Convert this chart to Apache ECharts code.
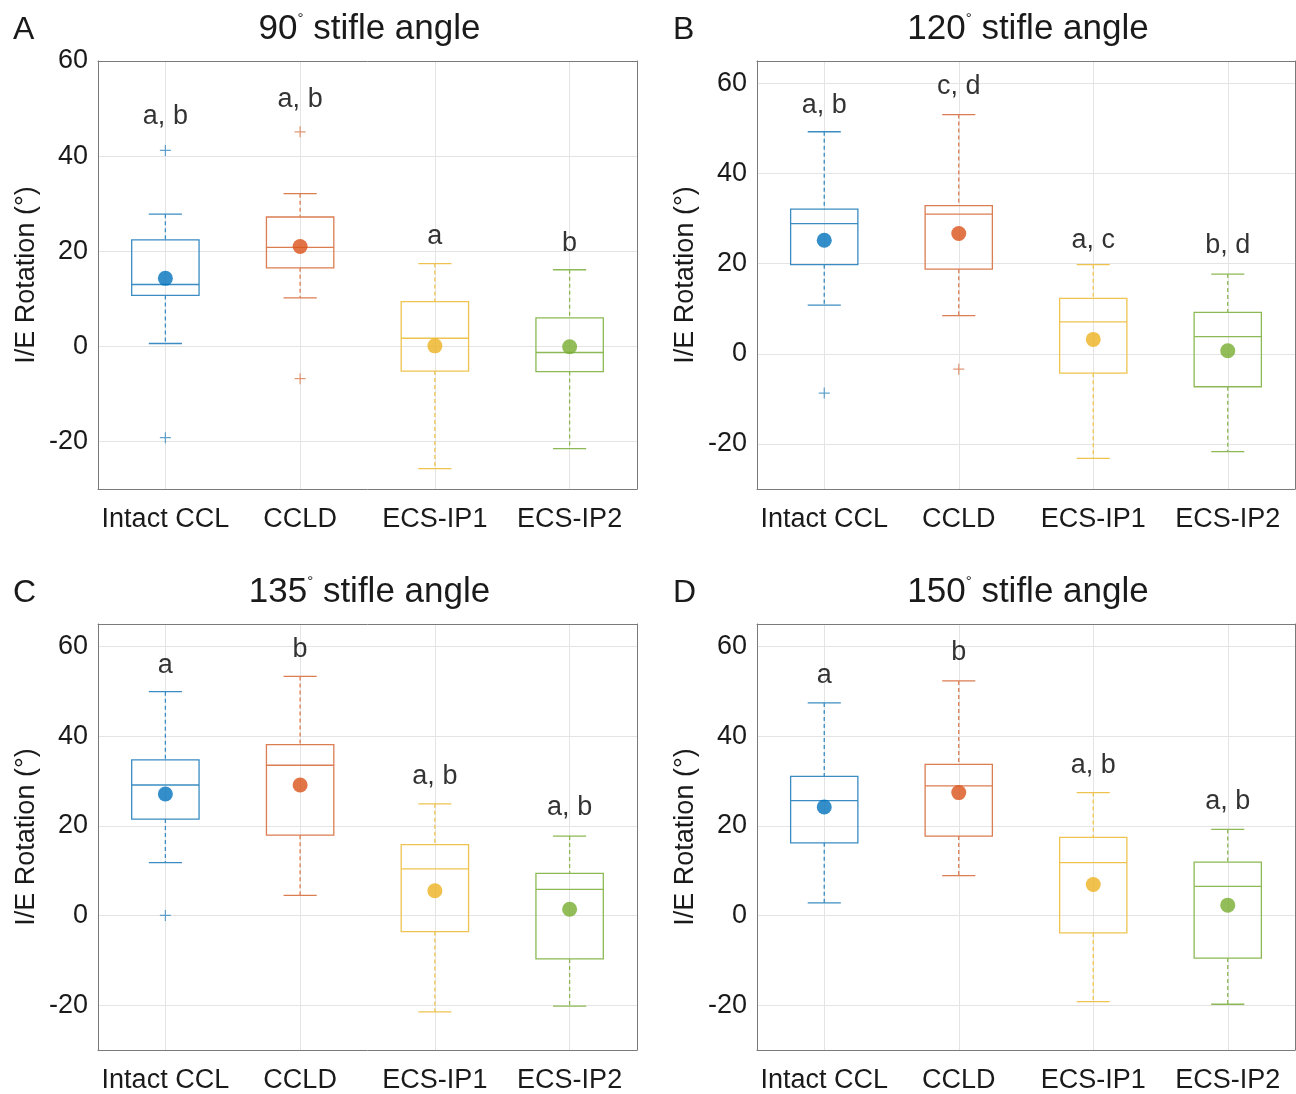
<!DOCTYPE html>
<html>
<head>
<meta charset="utf-8">
<script src="https://cdn.jsdelivr.net/npm/echarts@6/dist/echarts.min.js"></script>
<style>
  html, body { margin: 0; padding: 0; background: #fff; }
  #chart { width: 1296px; height: 1094px; }
</style>
</head>
<body>
<div id="chart"></div>
<script>
  // groups on the x axis
  const categories = ['Intact CCL', 'CCLD', 'ECS-IP1', 'ECS-IP2']

  // box values per group: [lower whisker, Q1, median, Q3, upper whisker]
  const boxA = [[0.6, 10.7, 13.0, 22.4, 27.8], [10.2, 16.5, 20.8, 27.2, 32.1], [-25.7, -5.2, 1.7, 9.4, 17.4], [-21.5, -5.3, -1.3, 6.0, 16.1]]
  const boxB = [[10.8, 19.8, 28.9, 32.1, 49.3], [8.5, 18.8, 31.0, 32.9, 53.1], [-23.2, -4.3, 7.1, 12.3, 19.8], [-21.7, -7.3, 3.8, 9.2, 17.7]]
  const boxC = [[11.8, 21.5, 29.1, 34.7, 49.9], [4.5, 17.9, 33.5, 38.1, 53.3], [-21.5, -3.6, 10.4, 15.8, 24.9], [-20.2, -9.7, 5.8, 9.4, 17.7]]
  const boxD = [[2.8, 16.2, 25.6, 31.0, 47.4], [8.9, 17.7, 28.9, 33.7, 52.3], [-19.2, -3.9, 11.8, 17.4, 27.4], [-19.8, -9.5, 6.5, 11.9, 19.2]]

  // group means
  const meanA = [14.3, 21.0, 0.1, -0.1]
  const meanB = [25.2, 26.7, 3.2, 0.7]
  const meanC = [27.1, 29.1, 5.5, 1.4]
  const meanD = [24.2, 27.4, 6.9, 2.3]

  // outliers: [group index, value]
  const outlierA = [[0, 41.2], [0, -19.2], [1, 45.1], [1, -6.8]]
  const outlierB = [[0, -8.7], [1, -3.4]]
  const outlierC = [[0, 0]]
  const outlierD = []

  // significance letters and the value where each sits
  const letterA = ['a, b', 'a, b', 'a', 'b']
  const letterB = ['a, b', 'c, d', 'a, c', 'b, d']
  const letterC = ['a', 'b', 'a, b', 'a, b']
  const letterD = ['a', 'b', 'a, b', 'a, b']
  const letterYA = [48.3, 51.9, 23.1, 21.6]
  const letterYB = [55.1, 59.4, 25.2, 24.1]
  const letterYC = [55.7, 59.4, 30.9, 24.0]
  const letterYD = [53.6, 58.7, 33.5, 25.3]

  // panel titles and y ranges
  const panelNames = ['A', 'B', 'C', 'D']
  const panelAngles = ['90', '120', '135', '150']
  const yMax = [60, 65, 65, 65]
  const yMin = -30
  const yTicks = [-20, 0, 20, 40, 60]

  const boxes = [boxA, boxB, boxC, boxD]
  const means = [meanA, meanB, meanC, meanD]
  const outliers = [outlierA, outlierB, outlierC, outlierD]
  const letters = [letterA, letterB, letterC, letterD]
  const letterYs = [letterYA, letterYB, letterYC, letterYD]

  const boxColors = ['#3a8cc2', '#db7d52', '#eec350', '#8cb955']
  const dotColors = ['#0072BD', '#D95319', '#EDB120', '#77AC30']
  const font = 'Liberation Sans, Arial, sans-serif'
  const axisGray = '#7a7a7a'
  const gridGray = '#e4e4e4'
  const textColor = '#1a1a1a'

  const grids = [
    { left: 98, top: 61, width: 539, height: 428 },
    { left: 757, top: 61, width: 538, height: 428 },
    { left: 98, top: 624, width: 539, height: 429 },
    { left: 757, top: 624, width: 538, height: 429 }
  ]

  // MATLAB-like box: dashed whiskers, short caps, open box, median line
  function renderBox(params, api) {
    const k = api.value(0)
    const lo = api.coord([k, api.value(1)])
    const q1 = api.coord([k, api.value(2)])
    const md = api.coord([k, api.value(3)])
    const q3 = api.coord([k, api.value(4)])
    const hi = api.coord([k, api.value(5)])
    const band = api.size([1, 0])[0]
    const hb = band * 0.25
    const hc = band * 0.123
    const cx = lo[0]
    const c = boxColors[k]
    const solid = { stroke: c, lineWidth: 1.3 }
    const dash = { stroke: c, lineWidth: 1.3, lineDash: [4, 3] }
    return {
      type: 'group',
      children: [
        { type: 'line', shape: { x1: cx, y1: hi[1], x2: cx, y2: q3[1] }, style: dash },
        { type: 'line', shape: { x1: cx, y1: q1[1], x2: cx, y2: lo[1] }, style: dash },
        { type: 'line', shape: { x1: cx - hc, y1: hi[1], x2: cx + hc, y2: hi[1] }, style: solid },
        { type: 'line', shape: { x1: cx - hc, y1: lo[1], x2: cx + hc, y2: lo[1] }, style: solid },
        { type: 'rect', shape: { x: cx - hb, y: q3[1], width: hb * 2, height: q1[1] - q3[1] }, style: { stroke: c, lineWidth: 1.3, fill: 'none' } },
        { type: 'line', shape: { x1: cx - hb, y1: md[1], x2: cx + hb, y2: md[1] }, style: solid }
      ]
    }
  }

  const xAxis = []
  const yAxis = []
  const series = []
  const graphic = []

  grids.forEach((g, i) => {
    // bottom axis with labels
    xAxis.push({
      gridIndex: i,
      type: 'category',
      data: categories,
      boundaryGap: true,
      axisLine: { onZero: false, lineStyle: { color: axisGray } },
      axisTick: { inside: true, alignWithLabel: true, length: 5, lineStyle: { color: axisGray } },
      axisLabel: { interval: 0, fontSize: 27, fontFamily: font, color: textColor, margin: 17 },
      splitLine: { show: true, alignWithLabel: true, lineStyle: { color: gridGray } }
    })
    // left axis with labels; its split lines follow the custom tick values
    yAxis.push({
      gridIndex: i,
      type: 'value',
      min: yMin,
      max: yMax[i],
      interval: 10,
      name: 'I/E Rotation (°)',
      nameLocation: 'middle',
      nameRotate: 90,
      nameGap: 58,
      nameTextStyle: { fontSize: 27, fontFamily: font, color: textColor },
      axisLine: { show: true, onZero: false, lineStyle: { color: axisGray } },
      axisTick: { inside: true, length: 5, customValues: yTicks, lineStyle: { color: axisGray } },
      axisLabel: {
        fontSize: 27, fontFamily: font, color: textColor, margin: 10,
        formatter: v => (yTicks.indexOf(v) >= 0 ? String(v) : '')
      },
      splitLine: { show: true, lineStyle: { color: gridGray } }
    })
  })
  grids.forEach((g, i) => {
    // top and right edges of the box
    xAxis.push({
      gridIndex: i,
      type: 'category',
      data: categories,
      position: 'top',
      boundaryGap: true,
      axisLine: { onZero: false, lineStyle: { color: axisGray } },
      axisTick: { inside: true, alignWithLabel: true, length: 5, lineStyle: { color: axisGray } },
      axisLabel: { show: false },
      splitLine: { show: false }
    })
    yAxis.push({
      gridIndex: i,
      type: 'value',
      position: 'right',
      min: yMin,
      max: yMax[i],
      interval: 10,
      axisLine: { show: true, onZero: false, lineStyle: { color: axisGray } },
      axisTick: { inside: true, length: 5, customValues: yTicks, lineStyle: { color: axisGray } },
      axisLabel: { show: false },
      splitLine: { show: false }
    })
  })

  grids.forEach((g, i) => {
    series.push({
      type: 'custom',
      xAxisIndex: i,
      yAxisIndex: i,
      renderItem: renderBox,
      encode: { x: 0, y: [1, 2, 3, 4, 5] },
      data: boxes[i].map((b, k) => [k].concat(b)),
      silent: true,
      z: 2
    })
    series.push({
      type: 'scatter',
      xAxisIndex: i,
      yAxisIndex: i,
      symbol: 'path://M0,5L10,5M5,0L5,10',
      symbolSize: 11,
      data: outliers[i].map(o => ({
        value: o,
        itemStyle: { color: 'none', borderWidth: 1.2, borderColor: boxColors[o[0]] }
      })),
      silent: true,
      z: 3
    })
    series.push({
      type: 'scatter',
      xAxisIndex: i,
      yAxisIndex: i,
      symbol: 'circle',
      symbolSize: 15,
      itemStyle: { color: p => dotColors[p.dataIndex] },
      data: means[i].map((m, k) => [k, m]),
      silent: true,
      z: 4
    })
    series.push({
      type: 'scatter',
      xAxisIndex: i,
      yAxisIndex: i,
      symbol: 'circle',
      symbolSize: 0,
      itemStyle: { color: '#000' },
      label: {
        show: true,
        position: 'inside',
        fontSize: 27,
        fontFamily: font,
        color: '#000',
        textBorderWidth: 0,
        formatter: p => letters[i][p.dataIndex]
      },
      data: letterYs[i].map((y, k) => [k, y]),
      silent: true,
      z: 5
    })

    const cy = g.top - 33
    graphic.push({
      type: 'text',
      left: i % 2 === 0 ? 13 : 673,
      top: cy - 14,
      style: { text: panelNames[i], fontSize: 32, fontFamily: font, fill: textColor }
    })
    graphic.push({
      type: 'text',
      x: g.left + g.width / 2 + 2,
      y: cy + 1,
      style: {
        text: '{n|' + panelAngles[i] + '}{d|°}{n| stifle angle}',
        align: 'center',
        verticalAlign: 'middle',
        fontFamily: font,
        fill: textColor,
        rich: {
          n: { fontSize: 35, fontFamily: font, fill: textColor },
          d: { fontSize: 15, fontFamily: font, fill: textColor, verticalAlign: 'top', lineHeight: 36 }
        }
      }
    })
  })

  const chart = echarts.init(document.getElementById('chart'))
  chart.setOption({
    backgroundColor: '#fff',
    animation: false,
    grid: grids,
    xAxis: xAxis,
    yAxis: yAxis,
    series: series,
    graphic: graphic
  })
</script>
</body>
</html>
